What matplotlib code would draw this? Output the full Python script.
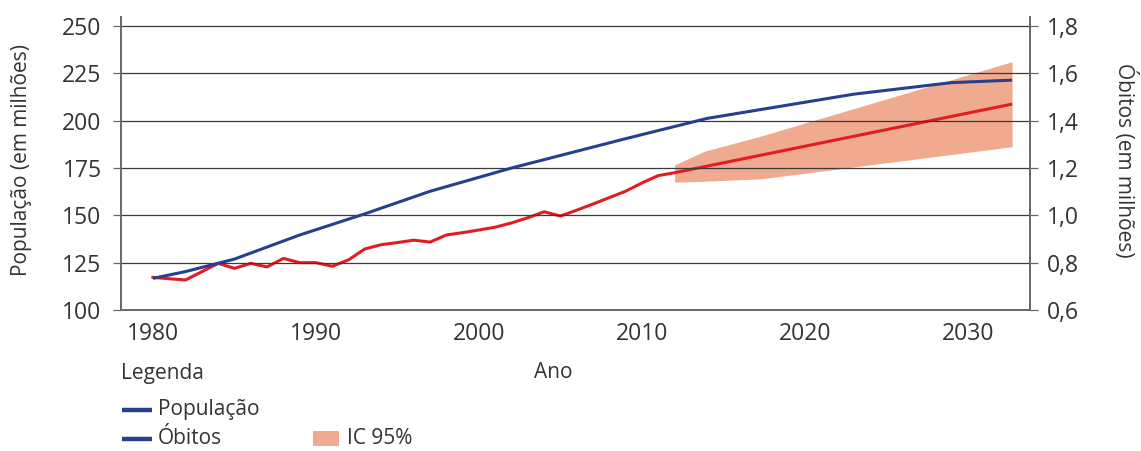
import matplotlib
matplotlib.use("Agg")
import matplotlib.pyplot as plt
from matplotlib.lines import Line2D
from matplotlib.patches import Rectangle

plt.rcParams['font.family'] = ['Open Sans', 'DejaVu Sans']

# Population (millions), left axis
pop_years = [1980, 1982, 1985, 1989, 1993, 1997, 2002, 2009, 2014, 2023, 2029, 2032.7]
pop_values = [116.7, 120.3, 126.9, 139.6, 150.8, 162.7, 175.0, 190.5, 201.2, 214.0, 220.1, 221.4]

# Deaths (millions), right axis: observed series
obs_years = list(range(1980, 2013))
obs_values = [0.738, 0.732, 0.727, 0.762, 0.797, 0.776, 0.797, 0.782, 0.818, 0.800,
              0.800, 0.785, 0.812, 0.858, 0.876, 0.885, 0.895, 0.887, 0.917, 0.927,
              0.938, 0.950, 0.968, 0.990, 1.015, 0.997, 1.022, 1.048, 1.075, 1.102,
              1.137, 1.168, 1.180]

# Deaths projection and 95% interval
proj_years = [2012, 2032.7]
proj_values = [1.180, 1.470]
ci_years = [2012, 2013.8, 2017.3, 2032.7]
ci_upper = [1.213, 1.270, 1.335, 1.649]
ci_lower = [1.140, 1.144, 1.154, 1.290]

pop_ticks = [100, 125, 150, 175, 200, 225, 250]
obit_ticks = [0.6, 0.8, 1.0, 1.2, 1.4, 1.6, 1.8]
obit_tick_labels = ['0,6', '0,8', '1,0', '1,2', '1,4', '1,6', '1,8']
year_ticks = [1980, 1990, 2000, 2010, 2020, 2030]

BLUE = '#263f8f'
RED = '#e31b23'
BAND = '#f0aa90'
TEXT = '#333333'
GRID = '#3a3a3a'
SPINE = '#6a6a6a'

W, H = 1141, 451
fig = plt.figure(figsize=(W / 100, H / 100), dpi=100)

def fx(x):
    return x / W

def fy(y):
    return 1 - y / H

ax = fig.add_axes([fx(121), fy(310), fx(1030) - fx(121), fy(17) - fy(310)])
ax2 = ax.twinx()

# Population scale 100..250 maps to deaths 0.6..1.8
ylo, yhi = 100, 254.75
ax.set_ylim(ylo, yhi)
ax2.set_ylim(0.6 + (ylo - 100) * 0.008, 0.6 + (yhi - 100) * 0.008)
ax.set_xlim(1978.04, 2033.8)

for t in pop_ticks[1:]:
    ax.axhline(t, color=GRID, lw=0.9, zorder=1)

ax.plot(pop_years, pop_values, color=BLUE, lw=2.2, zorder=4, solid_capstyle='butt')
ax2.fill_between(ci_years, ci_lower, ci_upper, color=BAND, lw=0, zorder=2)
ax2.plot(obs_years, obs_values, color=RED, lw=2.2, zorder=3)
ax2.plot(proj_years, proj_values, color=RED, lw=2.2, zorder=3, solid_capstyle='butt')

ax.set_yticks(pop_ticks)
ax.set_yticklabels([str(t) for t in pop_ticks])
ax2.set_yticks(obit_ticks)
ax2.set_yticklabels(obit_tick_labels)
ax.set_xticks(year_ticks)
ax.set_xticklabels([str(t) for t in year_ticks])

ax.tick_params(axis='y', length=6, width=0.9, color=SPINE, pad=8,
               labelsize=16.5, labelcolor=TEXT)
ax2.tick_params(axis='y', length=6, width=0.9, color=SPINE, pad=6,
                labelsize=16.5, labelcolor=TEXT)
ax.tick_params(axis='x', length=0, pad=9, labelsize=16.5, labelcolor=TEXT)

for a in (ax, ax2):
    a.spines['top'].set_visible(False)
    for s in ('left', 'right', 'bottom'):
        a.spines[s].set_color(SPINE)
        a.spines[s].set_linewidth(1.3)
ax2.set_zorder(ax.get_zorder() + 1)
ax.set_zorder(ax2.get_zorder() + 1)
ax.patch.set_visible(False)

fig.text(fx(22), fy(160), 'População (em milhões)', rotation=90, ha='center', va='center',
         fontsize=15, color=TEXT)
fig.text(fx(1125), fy(160), 'Óbitos (em milhões)', rotation=-90, ha='center', va='center',
         fontsize=15, color=TEXT)

fig.text(fx(121), fy(373), 'Legenda', ha='left', va='center', fontsize=15, color=TEXT)
fig.text(fx(553), fy(373), 'Ano', ha='center', va='center', fontsize=15, color=TEXT)

fig.add_artist(Line2D([fx(122), fx(152)], [fy(410), fy(410)], color=BLUE, lw=3.2,
                      solid_capstyle='butt'))
fig.text(fx(158), fy(409), 'População', ha='left', va='center', fontsize=15, color=TEXT)
fig.add_artist(Line2D([fx(122), fx(152)], [fy(439), fy(439)], color=BLUE, lw=3.2,
                      solid_capstyle='butt'))
fig.text(fx(158), fy(438), 'Óbitos', ha='left', va='center', fontsize=15, color=TEXT)
fig.add_artist(Rectangle((fx(313), fy(446)), fx(339) - fx(313), fy(431) - fy(446),
                         transform=fig.transFigure, color=BAND, lw=0))
fig.text(fx(347), fy(438), 'IC 95%', ha='left', va='center', fontsize=15, color=TEXT)

fig.savefig('out.png', dpi=100)
